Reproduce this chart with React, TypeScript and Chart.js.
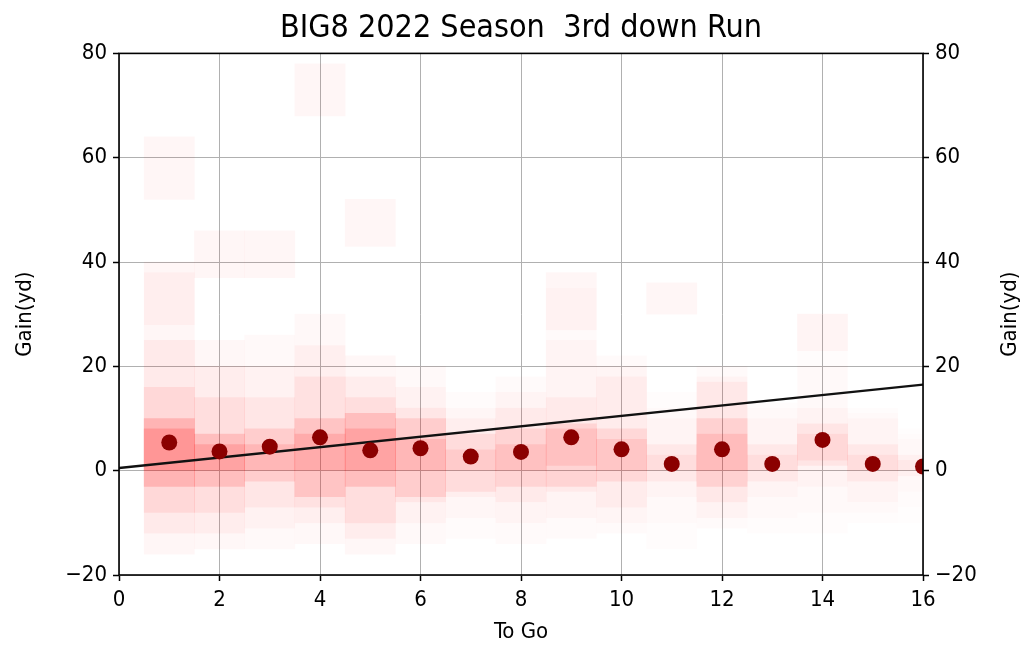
import React, { useEffect, useRef } from "react";
import { Chart, registerables } from "chart.js";

Chart.register(...registerables);

const TITLE = "BIG8 2022 Season  3rd down Run";
const X_LABEL = "To Go";
const Y_LABEL = "Gain(yd)";
const X_MIN = 0;
const X_MAX = 16;
const X_STEP = 2;
const Y_MIN = -20;
const Y_MAX = 80;
const Y_STEP = 20;

// yards to go (columns) and average gain (dots)
const toGo = [1, 2, 3, 4, 5, 6, 7, 8, 9, 10, 11, 12, 13, 14, 15, 16];
const avgGain = [5.4, 3.7, 4.6, 6.4, 3.9, 4.3, 2.7, 3.6, 6.4, 4.1, 1.3, 4.1, 1.3, 5.9, 1.3, 0.8];

// relative play density per column (heat intensity)
const playDensity = [1.0, 0.85, 0.65, 0.75, 0.85, 0.65, 0.45, 0.55, 0.55, 0.5, 0.3, 0.6, 0.3, 0.35, 0.3, 0.2];

// gain distribution bands per column
const outerLow = [-16, -15, -15, -14, -16, -14, -13, -14, -13, -12, -15, -11, -12, -12, -10, -10];
const outerHigh = [38, 25, 26, 30, 22, 20, 15, 18, 35, 22, 15, 20, 13, 30, 12, 8];
const wideLow = [-12, -12, -11, -10, -13, -10, -9, -10, -9, -10, -10, -9, -9, -8, -8, -7];
const wideHigh = [25, 20, 20, 24, 18, 16, 12, 15, 25, 20, 12, 18, 12, 20, 11, 7];
const midLow = [-8, -8, -7, -7, -10, -6, -5, -6, -4, -7, -5, -6, -5, -3, -6, -4];
const midHigh = [16, 14, 14, 18, 14, 12, 10, 12, 14, 18, 10, 17, 10, 12, 10, 6];
const coreLow = [-3, -3, -2, -5, -3, -5, -4, -3, -3, -2, -2, -3, -2, 1, -2, -1];
const coreHigh = [10, 7, 8, 10, 11, 10, 7, 8, 9, 8, 5, 10, 5, 9, 5, 3];
const innerLow = [0, 0, 0, 0, 0, 0, 0, 0, 1, 0, 0, 0, 0, 2, 0, 0];
const innerHigh = [8, 5, 5, 7, 8, 6, 4, 5, 8, 6, 3, 7, 3, 7, 3, 2];

// isolated long gains
const longToGo = [1, 1, 2, 3, 4, 5, 9, 11, 14];
const longLow = [52, 28, 37, 37, 68, 43, 27, 30, 23];
const longHigh = [64, 40, 46, 46, 78, 52, 38, 36, 30];

// reference line (gain needed = yards to go)
const trendX = [0, 16];
const trendY = [0.5, 16.5];

const FONT = "'DejaVu Sans Condensed', 'DejaVu Sans', 'Liberation Sans', sans-serif";

export default function App() {
  const canvasRef = useRef<HTMLCanvasElement | null>(null);

  useEffect(() => {
    document.body.style.margin = "0";
    const canvas = canvasRef.current;
    if (!canvas) return;

    const band = (lows: number[], highs: number[], alpha: number, label: string, order: number) => ({
      type: "bar" as const,
      label,
      data: toGo.map((x, i) => ({ x, y: [lows[i], highs[i]] })),
      backgroundColor: toGo.map((_, i) => `rgba(255,0,0,${(alpha * playDensity[i]).toFixed(3)})`),
      borderWidth: 0,
      barPercentage: 1,
      categoryPercentage: 1,
      grouped: false,
      order,
      yAxisID: "y",
    });

    const rightTitle = {
      id: "rightTitle",
      afterDraw(chart: any) {
        const { ctx, chartArea } = chart;
        ctx.save();
        ctx.fillStyle = "#000";
        ctx.font = `22px ${FONT}`;
        ctx.textAlign = "center";
        ctx.textBaseline = "middle";
        ctx.translate(chart.width - 12, (chartArea.top + chartArea.bottom) / 2);
        ctx.rotate(-Math.PI / 2);
        ctx.fillText(Y_LABEL, 0, 0);
        ctx.restore();
      },
    };

    const frame = {
      id: "frame",
      afterDatasetsDraw(chart: any) {
        const { ctx, chartArea } = chart;
        ctx.save();
        ctx.strokeStyle = "#000";
        ctx.lineWidth = 1.6;
        ctx.strokeRect(chartArea.left, chartArea.top, chartArea.right - chartArea.left, chartArea.bottom - chartArea.top);
        ctx.restore();
      },
    };

    const fmt = (v: any) => (Number(v) < 0 ? "\u2212" + Math.abs(Number(v)) : String(v));

    const chart = new Chart(canvas, {
      type: "bar",
      data: {
        datasets: [
          {
            type: "scatter" as const,
            label: "avg gain",
            data: toGo.map((x, i) => ({ x, y: avgGain[i] })),
            backgroundColor: "#8b0000",
            borderColor: "#8b0000",
            pointRadius: 8,
            pointBorderWidth: 0,
            clip: 0,
            order: 0,
            yAxisID: "y",
          } as any,
          {
            type: "line" as const,
            label: "to go",
            data: trendX.map((x, i) => ({ x, y: trendY[i] })),
            borderColor: "#111",
            borderWidth: 2.4,
            pointRadius: 0,
            fill: false,
            order: 1,
            yAxisID: "y",
          } as any,
          band(innerLow, innerHigh, 0.17, "inner", 2) as any,
          band(coreLow, coreHigh, 0.17, "core", 3) as any,
          band(midLow, midHigh, 0.08, "mid", 4) as any,
          band(wideLow, wideHigh, 0.05, "wide", 5) as any,
          band(outerLow, outerHigh, 0.035, "outer", 6) as any,
          {
            type: "bar" as const,
            label: "long",
            data: longToGo.map((x, i) => ({ x, y: [longLow[i], longHigh[i]] })),
            backgroundColor: "rgba(255,0,0,0.035)",
            borderWidth: 0,
            barPercentage: 1,
            categoryPercentage: 1,
            grouped: false,
            order: 7,
            yAxisID: "y",
          } as any,
        ],
      },
      options: {
        responsive: false,
        animation: false,
        layout: { padding: 0 },
        plugins: {
          legend: { display: false },
          tooltip: { enabled: false },
          title: {
            display: true,
            text: TITLE,
            fullSize: false,
            color: "#000",
            font: { family: FONT, size: 32, weight: "normal" },
            padding: { top: 9, bottom: 6 },
          },
        },
        scales: {
          x: {
            type: "linear",
            min: X_MIN,
            max: X_MAX,
            offset: false,
            grid: { offset: false, color: "#b0b0b0", lineWidth: 1, tickColor: "#000", tickLength: 6, tickWidth: 1.5 },
            border: { display: false },
            ticks: { stepSize: X_STEP, color: "#000", font: { family: FONT, size: 22 }, padding: 6, maxRotation: 0 },
            title: { display: true, text: X_LABEL, color: "#000", font: { family: FONT, size: 22 }, padding: { top: 0, bottom: 1 } },
            afterFit(scale: any) {
              scale.height = 71;
            },
          },
          y: {
            type: "linear",
            position: "left",
            min: Y_MIN,
            max: Y_MAX,
            grid: { color: "#b0b0b0", lineWidth: 1, tickColor: "#000", tickLength: 6, tickWidth: 1.5 },
            border: { display: false },
            ticks: { stepSize: Y_STEP, color: "#000", font: { family: FONT, size: 22 }, padding: 6, callback: fmt },
            title: { display: true, text: Y_LABEL, color: "#000", font: { family: FONT, size: 22 }, padding: { top: 12, bottom: 0 } },
            afterFit(scale: any) {
              scale.width = 119;
            },
          },
          y2: {
            type: "linear",
            position: "right",
            min: Y_MIN,
            max: Y_MAX,
            grid: { drawOnChartArea: false, tickColor: "#000", tickLength: 6, tickWidth: 1.5 },
            border: { display: false },
            ticks: { stepSize: Y_STEP, color: "#000", font: { family: FONT, size: 22 }, padding: 6, callback: fmt },
            afterFit(scale: any) {
              scale.width = 99;
            },
          },
        },
      } as any,
      plugins: [frame, rightTitle],
    });

    return () => chart.destroy();
  }, []);

  return (
    <div style={{ width: 1022, height: 646, background: "#fff" }}>
      <canvas ref={canvasRef} width={1022} height={646} />
    </div>
  );
}
